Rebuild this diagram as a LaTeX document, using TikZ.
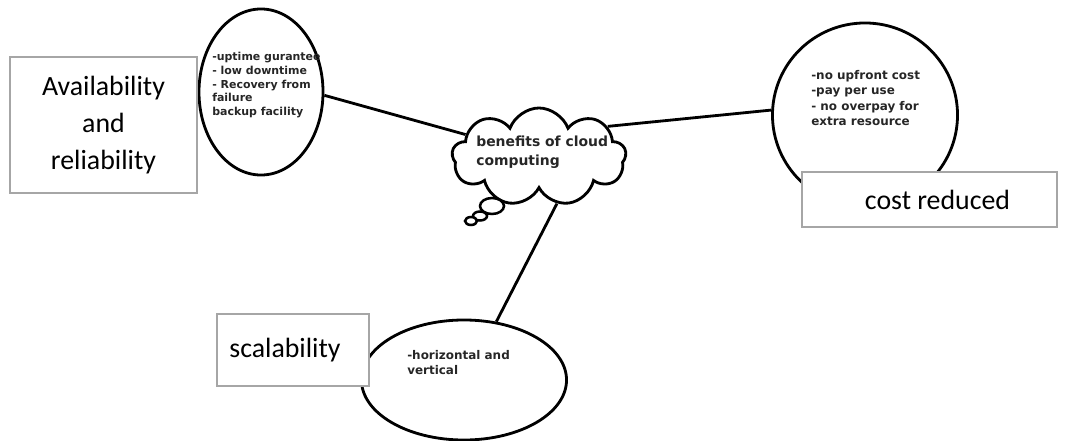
\documentclass[tikz,border=0pt]{standalone}
\usepackage{fontspec}
\setmainfont{Carlito}
\newfontfamily\notefont{DejaVu Sans}
\usetikzlibrary{shapes.geometric,shapes.symbols}
\usetikzlibrary{positioning}

\begin{document}
\begin{tikzpicture}[x=0.025cm,y=-0.025cm,
    bubble/.style={draw,ellipse,line width=2pt,inner sep=0pt},
    note/.style={anchor=north west,align=left,inner sep=0pt,text=black!85,font=\notefont\bfseries\fontsize{8.5}{11}\selectfont},
    labelbox/.style={draw=black!35,line width=1.2pt,fill=white,align=center,inner sep=0pt,font=\fontsize{19.8}{26.3}\selectfont},
    link/.style={line width=2pt}]
    \useasboundingbox (0,0) rectangle (1067,441);
    % the three bubbles
    \node[bubble, minimum width=3.1cm, minimum height=4.15cm] (avail) at (261,92) {};
    \node[bubble, minimum width=4.625cm, minimum height=4.6cm] (cost) at (865,115) {};
    \node[bubble, minimum width=5.125cm, minimum height=3cm] (scale) at (464,380) {};
    \node[note, font=\notefont\bfseries\fontsize{7.8}{9.8}\selectfont] (availtext) at (212,52)
        {-uptime gurantee\\- low downtime\\- Recovery from\\failure\\backup facility};
    \node[note] (costtext) at (811,70)
        {-no upfront cost\\-pay per use\\- no overpay for\\extra resource};
    \node[note] (scaletext) at (407,350) {-horizontal and\\vertical};
    % thought cloud in the middle
    \node[cloud, draw, fill=white, line width=2pt, cloud puffs=9, cloud puff arc=140, aspect=1.8,
        minimum width=4.35cm, minimum height=2.45cm] (cloud) at (539,157) {};
    \draw[line width=1.8pt, fill=white] (492,206) ellipse [x radius=12, y radius=8];
    \draw[line width=1.8pt, fill=white] (480,216) ellipse [x radius=7, y radius=4.5];
    \draw[line width=1.8pt, fill=white] (471,221) ellipse [x radius=6, y radius=4];
    \node[note, font=\notefont\bfseries\fontsize{9.9}{13.5}\selectfont] (cloudtext) at (476,136)
        {benefits of cloud\\computing};
    \draw[link] (avail.-3) -- (cloud.163);
    \draw[link] (cloud.24) -- (cost.177);
    \draw[link] (cloud.-69) -- (scale.61);
    % labels
    \node[labelbox, minimum width=4.675cm, minimum height=3.4cm] (availbox) at (103.5,125)
        {Availability\\and\\reliability};
    \node[labelbox, minimum width=6.375cm, minimum height=1.375cm] (costbox) at (929.5,199.5)
        {\hspace{0.4cm}cost reduced};
    \node[labelbox, minimum width=3.8cm, minimum height=1.8cm] (scalebox) at (293,350)
        {\raisebox{0.12cm}{scalability}\hspace{0.4cm}};
\end{tikzpicture}
\end{document}
